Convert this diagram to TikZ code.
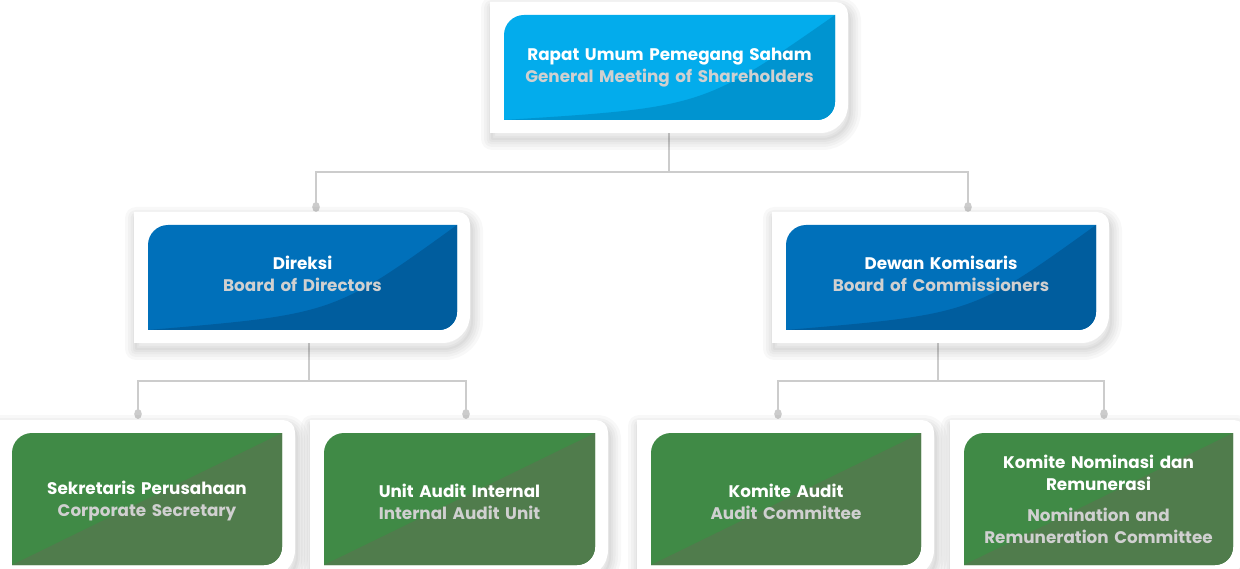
\documentclass[tikz,border=0pt]{standalone}
\usepackage{fontspec}
\setmainfont{Poppins}
\usetikzlibrary{calc}
\definecolor{cyanL}{RGB}{3,172,236}
\definecolor{cyanD}{RGB}{0,148,208}
\definecolor{blueL}{RGB}{0,112,186}
\definecolor{blueD}{RGB}{0,93,158}
\definecolor{greenL}{RGB}{64,138,70}
\definecolor{greenD}{RGB}{80,124,76}
\definecolor{subgray}{RGB}{208,208,208}
\definecolor{linegray}{RGB}{204,204,204}
\pgfdeclarelayer{bg}
\pgfsetlayers{bg,main}
\tikzset{
  conn/.style={draw=linegray, line width=2.5pt},
  boxtext/.style={align=center, text=white, font=\fontsize{16.8}{22}\selectfont\bfseries, inner sep=0pt},
  cardp/.style={insert path={(\xa-14,\yb-13) -- (\xa-14,\ya+13) -- (\xb+1,\ya+13)
     arc[start angle=90, end angle=0, radius=12pt] -- (\xb+13,\yb+15)
     arc[start angle=0, end angle=-90, radius=28pt] -- cycle}},
  boxp/.style={insert path={(\xa,\yb) -- (\xa,\ya-20) arc[start angle=180, end angle=90, radius=20pt]
     -- (\xb,\ya) -- (\xb,\yb+18) arc[start angle=0, end angle=-90, radius=18pt] -- cycle}},
}
\def\tyoff{0}
% #1 name, #2 x1, #3 top, #4 x2, #5 bottom, #6 light, #7 dark, #8 curve y-fraction, #9 text
\newcommand\orgcard[9]{%
  \pgfmathsetmacro\xa{#2}\pgfmathsetmacro\ya{-(#3)}%
  \pgfmathsetmacro\xb{#4}\pgfmathsetmacro\yb{-(#5)}%
  \foreach \w in {22,16,11,6,2}
    \draw[black, opacity=0.028, line width=\w pt, line join=round, xshift=2pt, yshift=-6pt, cardp];
  \fill[white, cardp];
  \fill[#6, boxp];
  \begin{scope}
    \clip[boxp];
    \fill[#7] (\xa,\yb) .. controls ({\xa+0.6*(\xb-\xa)},{\yb+#8*(\ya-\yb)}) .. (\xb,\ya) -- (\xb+5,\ya) -- (\xb+5,\yb-5) -- cycle;
  \end{scope}
  \node[boxtext, minimum width={\xb-\xa}, minimum height={\ya-\yb}, text width={\xb-\xa-10}] (#1) at ({(\xa+\xb)/2},{(\ya+\yb)/2}) {};
  \node[boxtext, text width={\xb-\xa-10}] at ($(#1.center)+(0,\tyoff)$) {#9};
}
\begin{document}
\begin{tikzpicture}[x=1pt,y=1pt]
\useasboundingbox (0,0) rectangle (1240,-569);
\begin{pgfonlayer}{bg}
  \fill[white] (0,0) rectangle (1240,-569);
\end{pgfonlayer}

\def\tyoff{0}
\orgcard{gms}{504}{15}{835}{120}{cyanL}{cyanD}{0.12}{Rapat Umum Pemegang Saham\\{\color{subgray}General Meeting of Shareholders}}
\def\tyoff{4}
\orgcard{dir}{148}{225}{457}{330}{blueL}{blueD}{0.15}{Direksi\\{\color{subgray}Board of Directors}}
\orgcard{boc}{786}{225}{1096}{330}{blueL}{blueD}{0.15}{Dewan Komisaris\\{\color{subgray}Board of Commissioners}}
\def\tyoff{-2.5}
\orgcard{cs}{12}{433}{282}{565}{greenL}{greenD}{0.6}{Sekretaris Perusahaan\\{\color{subgray}Corporate Secretary}}
\orgcard{iau}{324}{433}{595}{565}{greenL}{greenD}{0.6}{Unit Audit Internal\\{\color{subgray}Internal Audit Unit}}
\orgcard{ac}{651}{433}{921}{565}{greenL}{greenD}{0.6}{Komite Audit\\{\color{subgray}Audit Committee}}
\def\tyoff{0}
\orgcard{nrc}{964}{433}{1233}{565}{greenL}{greenD}{0.6}{Komite Nominasi dan\\Remunerasi\\[9pt]{\color{subgray}Nomination and}\\{\color{subgray}Remuneration Committee}}

\coordinate (j0) at (669,-172);
\coordinate (dirdot) at (316,-207);
\coordinate (bocdot) at (968,-207);
\coordinate (j1) at (309,-381);
\coordinate (csdot) at (138,-414);
\coordinate (iaudot) at (466,-414);
\coordinate (j2) at (938,-381);
\coordinate (acdot) at (778,-414);
\coordinate (nrcdot) at (1104,-414);

\begin{pgfonlayer}{bg}
  \draw[conn] (j0 |- gms.south) -- (j0);
  \draw[conn] (dirdot) -- (dirdot |- j0) -- (bocdot |- j0) -- (bocdot);
  \draw[conn] (j1 |- dir.south) -- (j1);
  \draw[conn] (csdot) -- (csdot |- j1) -- (iaudot |- j1) -- (iaudot);
  \draw[conn] (j2 |- boc.south) -- (j2);
  \draw[conn] (acdot) -- (acdot |- j2) -- (nrcdot |- j2) -- (nrcdot);
  \foreach \d in {dirdot,bocdot,csdot,iaudot,acdot,nrcdot}
    \fill[linegray] (\d) ellipse[x radius=3.8pt, y radius=5pt];
\end{pgfonlayer}
\end{tikzpicture}
\end{document}
